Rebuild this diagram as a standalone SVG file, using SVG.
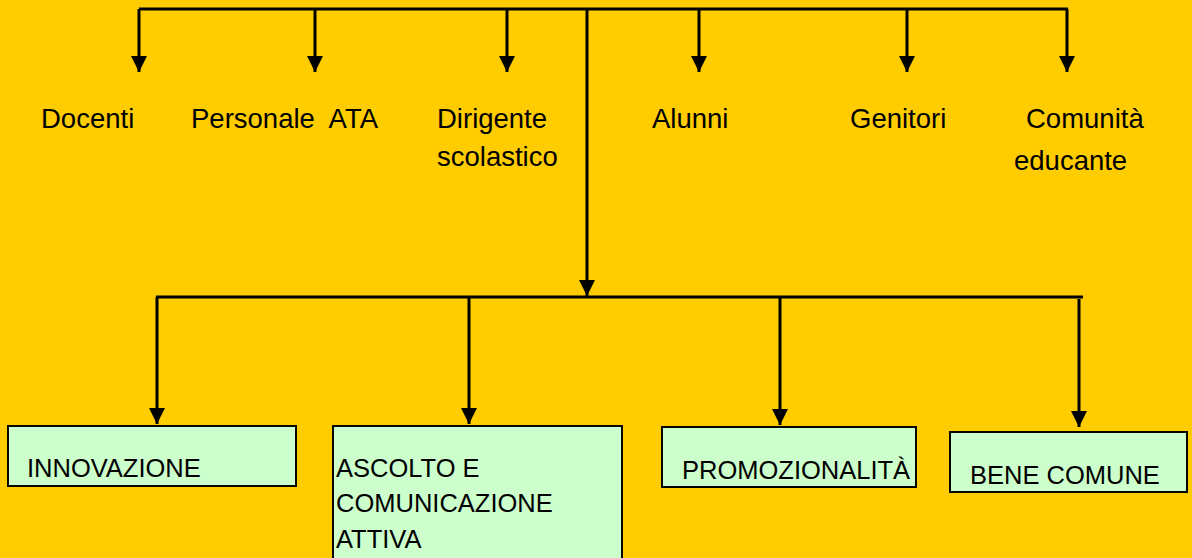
<svg xmlns="http://www.w3.org/2000/svg" width="1192" height="558" viewBox="0 0 1192 558">
<style>
.ln{stroke:#000;stroke-width:3;fill:none}
.ar{marker-end:url(#ah)}
.top{font-family:"Liberation Sans",Arial,sans-serif;font-size:27.5px;fill:#000}
.bx{fill:#CCFFCC;stroke:#000;stroke-width:2}
.bt{font-family:"Liberation Sans",Arial,sans-serif;font-size:25.5px;fill:#000}
</style>
<defs>
<marker id="ah" markerUnits="userSpaceOnUse" markerWidth="18" markerHeight="18" viewBox="0 0 18 18" refX="16" refY="9" orient="auto">
<path d="M0,1 L16,9 L0,17 Z" fill="#000"/>
</marker>
</defs>
<rect x="0" y="0" width="1192" height="558" fill="#FFCC00"/>
<g id="connectors">
<line class="ln" x1="139" y1="9" x2="1068" y2="9"/>
<line class="ln ar" x1="139" y1="9" x2="139" y2="72"/>
<line class="ln ar" x1="315" y1="9" x2="315" y2="72"/>
<line class="ln ar" x1="507" y1="9" x2="507" y2="72"/>
<line class="ln ar" x1="699" y1="9" x2="699" y2="72"/>
<line class="ln ar" x1="907" y1="9" x2="907" y2="72"/>
<line class="ln ar" x1="1067" y1="9" x2="1067" y2="72"/>
<line class="ln ar" x1="587" y1="9" x2="587" y2="296"/>
<line class="ln" x1="156" y1="297" x2="1083" y2="297"/>
<line class="ln ar" x1="157" y1="297" x2="157" y2="424"/>
<line class="ln ar" x1="469" y1="297" x2="469" y2="424"/>
<line class="ln ar" x1="780" y1="297" x2="780" y2="425"/>
<line class="ln ar" x1="1079" y1="299" x2="1079" y2="427"/>
</g>
<g id="docenti"><text class="top" x="41" y="128">Docenti</text></g>
<g id="personale-ata"><text class="top" x="191" y="128" xml:space="preserve" style="white-space:pre">Personale  ATA</text></g>
<g id="dirigente"><text class="top" x="437" y="128">Dirigente</text><text class="top" x="437" y="166">scolastico</text></g>
<g id="alunni"><text class="top" x="652" y="128">Alunni</text></g>
<g id="genitori"><text class="top" x="850" y="128">Genitori</text></g>
<g id="comunita"><text class="top" x="1026" y="128">Comunità</text><text class="top" x="1014" y="170">educante</text></g>
<g id="innovazione"><rect class="bx" x="8" y="426" width="288" height="60"/><text class="bt" x="27" y="477">INNOVAZIONE</text></g>
<g id="ascolto"><rect class="bx" x="333" y="426" width="289" height="140"/><text class="bt" x="336" y="477">ASCOLTO E</text><text class="bt" x="336" y="512">COMUNICAZIONE</text><text class="bt" x="336" y="548">ATTIVA</text></g>
<g id="promozionalita"><rect class="bx" x="662" y="427" width="254" height="60"/><text class="bt" x="682" y="479">PROMOZIONALITÀ</text></g>
<g id="bene-comune"><rect class="bx" x="950" y="432" width="237" height="60"/><text class="bt" x="970" y="484">BENE COMUNE</text></g>
</svg>
